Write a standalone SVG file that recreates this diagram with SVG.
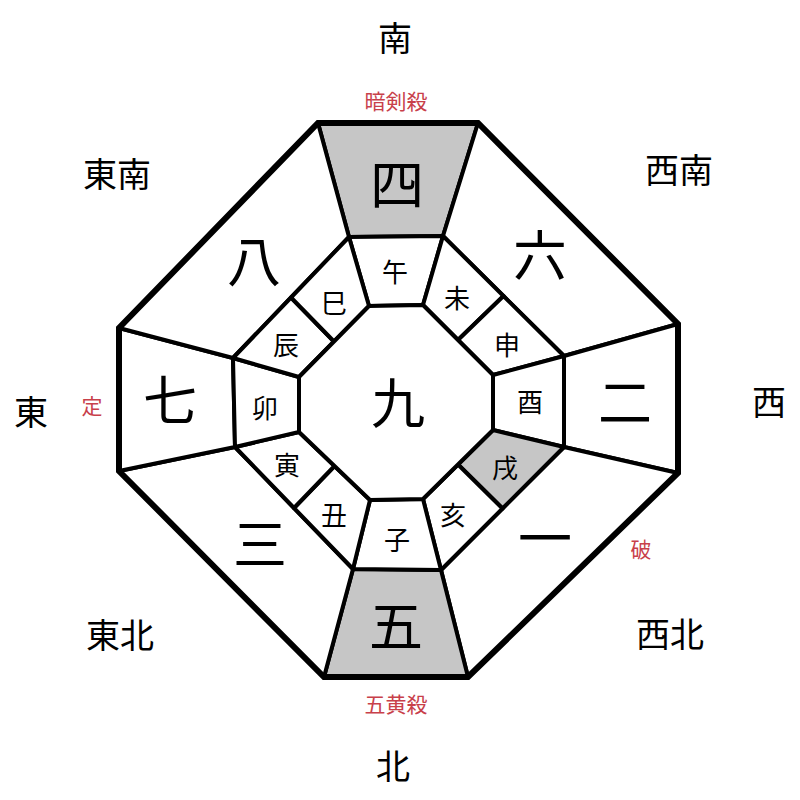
<svg xmlns="http://www.w3.org/2000/svg" width="800" height="800" viewBox="0 0 800 800">
<style>
.cell{fill:#ffffff;stroke:#000;stroke-width:4;stroke-linejoin:round}
.gray{fill:#c6c6c6}
.frame{fill:none;stroke:#000;stroke-width:6;stroke-linejoin:miter}
text{font-family:"Noto Sans CJK JP","Noto Sans CJK SC",sans-serif;text-anchor:middle;dominant-baseline:central;fill:#000}
.dir{font-size:34px}
.num{font-size:54px}
.br{font-size:26px}
.red{font-size:21px;fill:#c8404a}
</style>
<rect width="800" height="800" fill="#fff"/>
<g id="directions">
<text class="dir" x="395" y="36">南</text>
<text class="dir" x="117" y="172">東南</text>
<text class="dir" x="679" y="168">西南</text>
<text class="dir" x="31" y="410">東</text>
<text class="dir" x="769" y="400">西</text>
<text class="dir" x="120" y="633">東北</text>
<text class="dir" x="670" y="632">西北</text>
<text class="dir" x="393" y="764">北</text>
</g>
<g id="marks">
<text class="red" x="396" y="100">暗剣殺</text>
<text class="red" x="92" y="405">定</text>
<text class="red" x="641" y="548">破</text>
<text class="red" x="396" y="703">五黄殺</text>
</g>
<g id="sector-4"><polygon class="cell gray" points="318,123 478,123 443,236 349,237"/><text class="num" x="397" y="181">四</text></g>
<g id="sector-6"><polygon class="cell" points="478,123 678,324 564,356 443,236"/><text class="num" x="540" y="252">六</text></g>
<g id="sector-2"><polygon class="cell" points="678,324 678,473 564,447 564,356"/><text class="num" x="625" y="399">二</text></g>
<g id="sector-1"><polygon class="cell" points="678,473 468,677 441,570 564,447"/><text class="num" x="545" y="535">一</text></g>
<g id="sector-5"><polygon class="cell gray" points="468,677 324,677 353,569 441,570"/><text class="num" x="396" y="623">五</text></g>
<g id="sector-3"><polygon class="cell" points="324,677 119,471 235,447 353,569"/><text class="num" x="260" y="541">三</text></g>
<g id="sector-7"><polygon class="cell" points="119,471 119,328 233,358 235,447"/><text class="num" x="170" y="397">七</text></g>
<g id="sector-8"><polygon class="cell" points="119,328 318,123 349,237 233,358"/><text class="num" x="254" y="258">八</text></g>
<g id="branch-wu"><polygon class="cell" points="349,237 443,236 423,305 369,306"/><text class="br" x="395" y="270">午</text></g>
<g id="branch-wei"><polygon class="cell" points="443,236 503.5,296 458,340 423,305"/><text class="br" x="457" y="296">未</text></g>
<g id="branch-shen"><polygon class="cell" points="503.5,296 564,356 493,375 458,340"/><text class="br" x="507" y="343">申</text></g>
<g id="branch-you"><polygon class="cell" points="564,356 564,447 493,430 493,375"/><text class="br" x="530" y="400">酉</text></g>
<g id="branch-xu"><polygon class="cell gray" points="564,447 502.5,508.5 458,464.5 493,430"/><text class="br" x="505" y="466">戌</text></g>
<g id="branch-hai"><polygon class="cell" points="502.5,508.5 441,570 423,499 458,464.5"/><text class="br" x="453" y="513">亥</text></g>
<g id="branch-zi"><polygon class="cell" points="441,570 353,569 370,500 423,499"/><text class="br" x="397" y="538">子</text></g>
<g id="branch-chou"><polygon class="cell" points="353,569 294,508 334.5,466 370,500"/><text class="br" x="334" y="513">丑</text></g>
<g id="branch-yin"><polygon class="cell" points="294,508 235,447 299,432 334.5,466"/><text class="br" x="287" y="463">寅</text></g>
<g id="branch-mao"><polygon class="cell" points="235,447 233,358 299,377 299,432"/><text class="br" x="265" y="406">卯</text></g>
<g id="branch-chen"><polygon class="cell" points="233,358 291,297.5 334,341.5 299,377"/><text class="br" x="286" y="343">辰</text></g>
<g id="branch-si"><polygon class="cell" points="291,297.5 349,237 369,306 334,341.5"/><text class="br" x="334" y="301">巳</text></g>
<g id="center-9"><polygon class="cell" points="369,306 423,305 493,375 493,430 423,499 370,500 299,432 299,377"/><text class="num" x="398" y="400">九</text></g>
<g id="connectors">
<polygon class="frame" points="318,123 478,123 678,324 678,473 468,677 324,677 119,471 119,328"/>
</g>
</svg>
